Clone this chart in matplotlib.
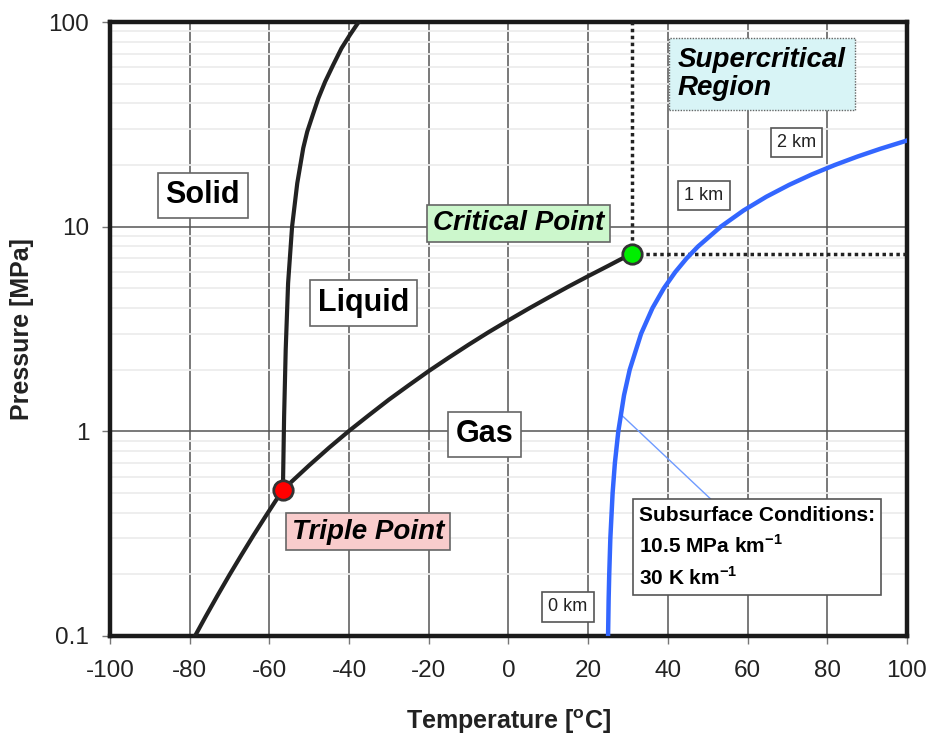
import matplotlib
matplotlib.use("Agg")
import matplotlib.pyplot as plt
from matplotlib.ticker import LogLocator, NullFormatter

plt.rcParams['font.family'] = ['Liberation Sans', 'DejaVu Sans']
plt.rcParams['mathtext.fontset'] = 'custom'
plt.rcParams['mathtext.rm'] = 'Liberation Sans'
plt.rcParams['mathtext.bf'] = 'Liberation Sans:bold'

# ------------------------------------------------------------
# CO2 phase boundaries (temperature in degC, pressure in MPa)
# ------------------------------------------------------------
sub_T = [-78.5, -76, -73, -70, -67, -64, -61, -58.5, -56.6]
sub_P = [0.1013, 0.1243, 0.1578, 0.199, 0.249, 0.310, 0.383, 0.455, 0.518]

vap_T = [-56.6, -55, -50, -45, -40, -35, -30, -25, -20, -15, -10, -5,
         0, 5, 10, 15, 20, 25, 28, 31.0]
vap_P = [0.518, 0.554, 0.682, 0.832, 1.005, 1.20, 1.428, 1.68, 1.97, 2.29, 2.65, 3.05,
         3.485, 3.97, 4.50, 5.09, 5.73, 6.43, 6.90, 7.38]

melt_T = [-56.6, -56.3, -55.9, -55.3, -54.3, -53.0, -51.5, -50.5, -49.1, -47.7,
          -46.0, -44.0, -41.9, -39.8, -37.6]
melt_P = [0.518, 1.18, 2.5, 5.29, 10.0, 16.3, 24.2, 29.1, 35.2, 42.4,
          51.1, 61.6, 74.4, 86.4, 100]

triple_T, triple_P = -56.6, 0.518
crit_T, crit_P = 31.0, 7.38

# subsurface path
geo_T = [25.0, 25.14, 25.29, 25.57, 26.14, 26.71, 27.57, 29.0, 30.43, 33.29,
         36.14, 39.0, 41.86, 44.71, 47.57, 53.29, 59.0, 64.71, 70.43, 76.14,
         81.86, 87.57, 93.29, 100.0]
geo_P = [0.1, 0.15, 0.2, 0.3, 0.5, 0.7, 1.0, 1.5, 2, 3,
         4, 5, 6, 7, 8, 10, 12, 14, 16, 18,
         20, 22, 24, 26.35]

x_ticks = [-100, -80, -60, -40, -20, 0, 20, 40, 60, 80, 100]
y_ticks = [0.1, 1, 10, 100]
y_tick_labels = ["0.1", "1", "10", "100"]

fig = plt.figure(figsize=(9.28, 7.36), dpi=100)
ax = fig.add_axes([0.1185, 0.1359, 0.8588, 0.8342])
ax.set_yscale('log')
ax.set_xlim(-100, 100)
ax.set_ylim(0.1, 100)

ax.set_xticks(x_ticks)
ax.set_xticklabels([str(t) for t in x_ticks])
ax.set_yticks(y_ticks)
ax.set_yticklabels(y_tick_labels)
ax.yaxis.set_minor_locator(LogLocator(base=10, subs=range(2, 10)))
ax.yaxis.set_minor_formatter(NullFormatter())
ax.tick_params(which='major', length=6, width=1, color='#777777',
               labelsize=17.5, labelcolor='#222222')
ax.tick_params(axis='x', pad=11)
ax.tick_params(axis='y', pad=9)
ax.tick_params(which='minor', length=0)

ax.set_axisbelow(True)
ax.grid(which='major', color='#555555', linewidth=1.1)
ax.grid(which='minor', axis='y', color='#ededed', linewidth=1.3)
for s in ax.spines.values():
    s.set_linewidth(3.2)
    s.set_color('#1a1a1a')

# dotted lines from the critical point
ax.plot([crit_T, crit_T], [crit_P, 100], color='#222222', lw=2.5,
        linestyle=(0, (1, 1)), zorder=3)
ax.plot([crit_T, 100], [crit_P, crit_P], color='#222222', lw=2.5,
        linestyle=(0, (1, 1)), zorder=3)

# phase boundaries
line_kw = dict(color='#222222', lw=3, solid_joinstyle='round', zorder=4)
ax.plot(sub_T, sub_P, **line_kw)
ax.plot(vap_T, vap_P, **line_kw)
ax.plot(melt_T, melt_P, **line_kw)

# subsurface conditions
ax.plot(geo_T, geo_P, color='#3366ff', lw=3.2, solid_joinstyle='round', zorder=4)
ax.plot([28.4, 51.0], [1.2, 0.462], color='#6f9bff', lw=1, zorder=3)

ax.plot(crit_T, crit_P, 'o', ms=14, mfc='#00ee00', mec='#333333', mew=2, zorder=6)
ax.plot(triple_T, triple_P, 'o', ms=14, mfc='#ff0000', mec='#333333', mew=2, zorder=6)

# region labels
box_w = dict(boxstyle='square,pad=0.25', fc='white', ec='#666666', lw=1.2)
for txt, tx, ty in [("Solid", -76.7, 14.2), ("Liquid", -36.3, 4.24), ("Gas", -6.1, 0.966)]:
    ax.text(tx, ty, txt, fontsize=22, fontweight='bold', ha='center', va='center',
            bbox=box_w, zorder=7)

ax.text(2.5, 10.4, "Critical Point", fontsize=20, fontweight='bold', style='italic',
        ha='center', va='center', zorder=7,
        bbox=dict(boxstyle='square,pad=0.2', fc='#ccf7cc', ec='#666666', lw=1.2))
ax.text(-35.3, 0.3236, "Triple Point", fontsize=20, fontweight='bold', style='italic',
        ha='center', va='center', zorder=7,
        bbox=dict(boxstyle='square,pad=0.2', fc='#f9cccc', ec='#666666', lw=1.2))
ax.text(42.5, 55.6, "Supercritical\nRegion", fontsize=20, fontweight='bold',
        style='italic', ha='left', va='center', linespacing=1.1, zorder=7,
        bbox=dict(boxstyle='square,pad=0.32', fc='#d8f4f6', ec='#666666', lw=1,
                  linestyle=(0, (1, 1))))

box_km = dict(boxstyle='square,pad=0.35', fc='white', ec='#555555', lw=1.2)
for txt, tx, ty in [("0 km", 14.9, 0.1387), ("1 km", 49.0, 14.2), ("2 km", 72.3, 25.8)]:
    ax.text(tx, ty, txt, fontsize=13, ha='center', va='center', color='#222222',
            bbox=box_km, zorder=7)

ax.text(32.7, 0.272,
        "Subsurface Conditions:\n10.5 MPa km$^{\\mathbf{-1}}$\n30 K km$^{\\mathbf{-1}}$",
        fontsize=15, fontweight='bold', ha='left', va='center', linespacing=1.5,
        zorder=7, bbox=dict(boxstyle='square,pad=0.3', fc='white', ec='#555555', lw=1.2))

fig.text(508.5 / 928, 1 - 722 / 736, "Temperature [$^{\\mathbf{o}}$C]", fontsize=18,
         fontweight='bold', ha='center', va='center', color='#222222')
fig.text(22 / 928, 1 - 329 / 736, "Pressure [MPa]", fontsize=18, fontweight='bold',
         ha='center', va='center', rotation=90, color='#222222')

fig.savefig("out.png", dpi=100)
